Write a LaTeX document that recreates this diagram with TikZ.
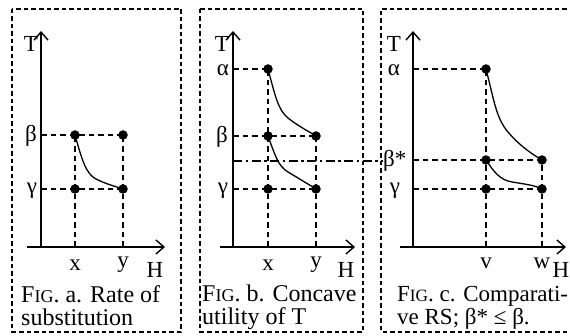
\documentclass[tikz,border=0pt]{standalone}
\usepackage{fontspec}
\setmainfont{Liberation Serif}
\usetikzlibrary{arrows.meta}
\newcommand{\figsc}[1]{F{\fontsize{0.75em}{1em}\selectfont IG}.~#1}
\begin{document}
\begin{tikzpicture}[x=1pt,y=-1pt,
  frame/.style={line width=1.2pt,dash pattern=on 4.5pt off 3pt},
  axisline/.style={line width=1.4pt,-{Straight Barb[length=8pt,width=14pt,line width=1.4pt]}},
  guide/.style={line width=1.3pt,dash pattern=on 5.5pt off 4pt},
  dashdot/.style={line width=1.3pt,dash pattern=on 9pt off 3.5pt on 2.5pt off 3.5pt},
  curveline/.style={line width=1.3pt},
  dotnode/.style={circle,fill=black,inner sep=0pt,minimum size=9.5pt},
  lbl/.style={font=\fontsize{23}{23}\selectfont,inner sep=0pt},
  capnode/.style={font=\fontsize{24}{23}\selectfont,inner sep=0pt,align=left,anchor=north west}]
\useasboundingbox (0,0) rectangle (570,336);
\fill[white] (0,0) rectangle (570,336);
% frames
\draw[frame] (12,9) rectangle (181,332);
\draw[frame] (200,9) rectangle (363,332);
\draw[frame] (574,9) -- (381,9) -- (381,332) -- (574,332);
% ---------- panel a
\coordinate (aO) at (41,247);
\coordinate (aTop) at (41,31);
\coordinate (aEnd) at (165,247);
\coordinate (aX0) at (27,247);
\draw[axisline] (aO) -- (aTop);
\draw[axisline] (aX0) -- (aEnd);
\node[dotnode] (a1) at (75,135) {};
\node[dotnode] (a2) at (123,135) {};
\node[dotnode] (a3) at (75,189) {};
\node[dotnode] (a4) at (123,189) {};
\coordinate (ab) at (41,135);
\coordinate (ag) at (41,189);
\coordinate (ax) at (75,247);
\coordinate (ay) at (123,247);
\draw[guide] (ab) -- (a2.center);
\draw[guide] (ag) -- (a4.center);
\draw[guide] (ax) -- (a1.center);
\draw[guide] (ay) -- (a2.center);
\draw[curveline] (a1.center) .. controls (82,160) and (86,174) .. (96,179) .. controls (106,184) and (114,186) .. (a4.center);
\node[lbl] (aT) at (31,44) {T};
\node[lbl] (aB) at (31,136) {β};
\node[lbl] (aG) at (32,191) {γ};
\node[lbl] (axl) at (75,265) {x};
\node[lbl] (ayl) at (123,265) {y};
\node[lbl] (aH) at (155,270) {H};
\node[capnode] (acap) at (21,285) {\figsc{a. Rate of}\\substitution};
% ---------- panel b
\coordinate (bO) at (233,247);
\coordinate (bTop) at (233,31);
\coordinate (bEnd) at (355,247);
\coordinate (bX0) at (220,247);
\draw[axisline] (bO) -- (bTop);
\draw[axisline] (bX0) -- (bEnd);
\node[dotnode] (b0) at (268,69) {};
\node[dotnode] (b1) at (268,136) {};
\node[dotnode] (b2) at (316,136) {};
\node[dotnode] (b3) at (268,189) {};
\node[dotnode] (b4) at (316,189) {};
\coordinate (bal) at (233,69);
\coordinate (bbl) at (233,136);
\coordinate (bgl) at (233,189);
\coordinate (bx) at (268,247);
\coordinate (by) at (316,247);
\draw[guide] (bal) -- (b0.center);
\draw[guide] (bbl) -- (b2.center);
\draw[guide] (bgl) -- (b4.center);
\draw[guide] (bx) -- (b0.center);
\draw[guide] (by) -- (b2.center);
\draw[curveline] (b0.center) .. controls (275,95) and (278,110) .. (288,118) .. controls (298,126) and (308,131) .. (b2.center);
\draw[curveline] (b1.center) .. controls (275,155) and (278,166) .. (288,172) .. controls (298,178) and (308,184) .. (b4.center);
\coordinate (bdd) at (233,161);
\node[lbl] (bT) at (222,44) {T};
\node[lbl] (bA) at (223,70) {α};
\node[lbl] (bB) at (222,137) {β};
\node[lbl] (bG) at (223,191) {γ};
\node[lbl] (bxl) at (268,265) {x};
\node[lbl] (byl) at (316,265) {y};
\node[lbl] (bH) at (346,270) {H};
\node[capnode] (bcap) at (202,285) {\figsc{b. Concave}\\utility of T};
% ---------- panel c
\coordinate (cO) at (413,247);
\coordinate (cTop) at (413,31);
\coordinate (cEnd) at (566,247);
\coordinate (cX0) at (400,247);
\draw[axisline] (cO) -- (cTop);
\draw[axisline] (cX0) -- (cEnd);
\node[dotnode] (c0) at (486,69) {};
\node[dotnode] (c1) at (486,160) {};
\node[dotnode] (c2) at (542,160) {};
\node[dotnode] (c3) at (486,189) {};
\node[dotnode] (c4) at (542,189) {};
\coordinate (cal) at (413,69);
\coordinate (cbl) at (413,160);
\coordinate (cgl) at (413,189);
\coordinate (cv) at (486,247);
\coordinate (cw) at (542,247);
\draw[guide] (cal) -- (c0.center);
\draw[guide] (cbl) -- (c2.center);
\draw[guide] (cgl) -- (c4.center);
\draw[guide] (cv) -- (c0.center);
\draw[guide] (cw) -- (c2.center);
\draw[curveline] (c0.center) .. controls (494,100) and (496,118) .. (508,132) .. controls (518,144) and (530,153) .. (c2.center);
\draw[curveline] (c1.center) .. controls (494,172) and (500,180) .. (512,182) .. controls (524,184) and (534,185) .. (c4.center);
\node[lbl] (cT) at (394,44) {T};
\node[lbl] (cA) at (394,70) {α};
\node[lbl,anchor=west] (cB) at (383,161) {β*};
\node[lbl] (cG) at (395,191) {γ};
\node[lbl] (cvl) at (486,263) {v};
\node[lbl] (cwl) at (542,263) {w};
\node[lbl] (cH) at (561,270) {H};
\node[capnode,font=\fontsize{23}{23}\selectfont] (ccap) at (397,286) {\figsc{c. Comparati-}\\ve RS; β* ≤ β.};
\draw[dashdot] (bdd) -- (cB.west);
\end{tikzpicture}
\end{document}
